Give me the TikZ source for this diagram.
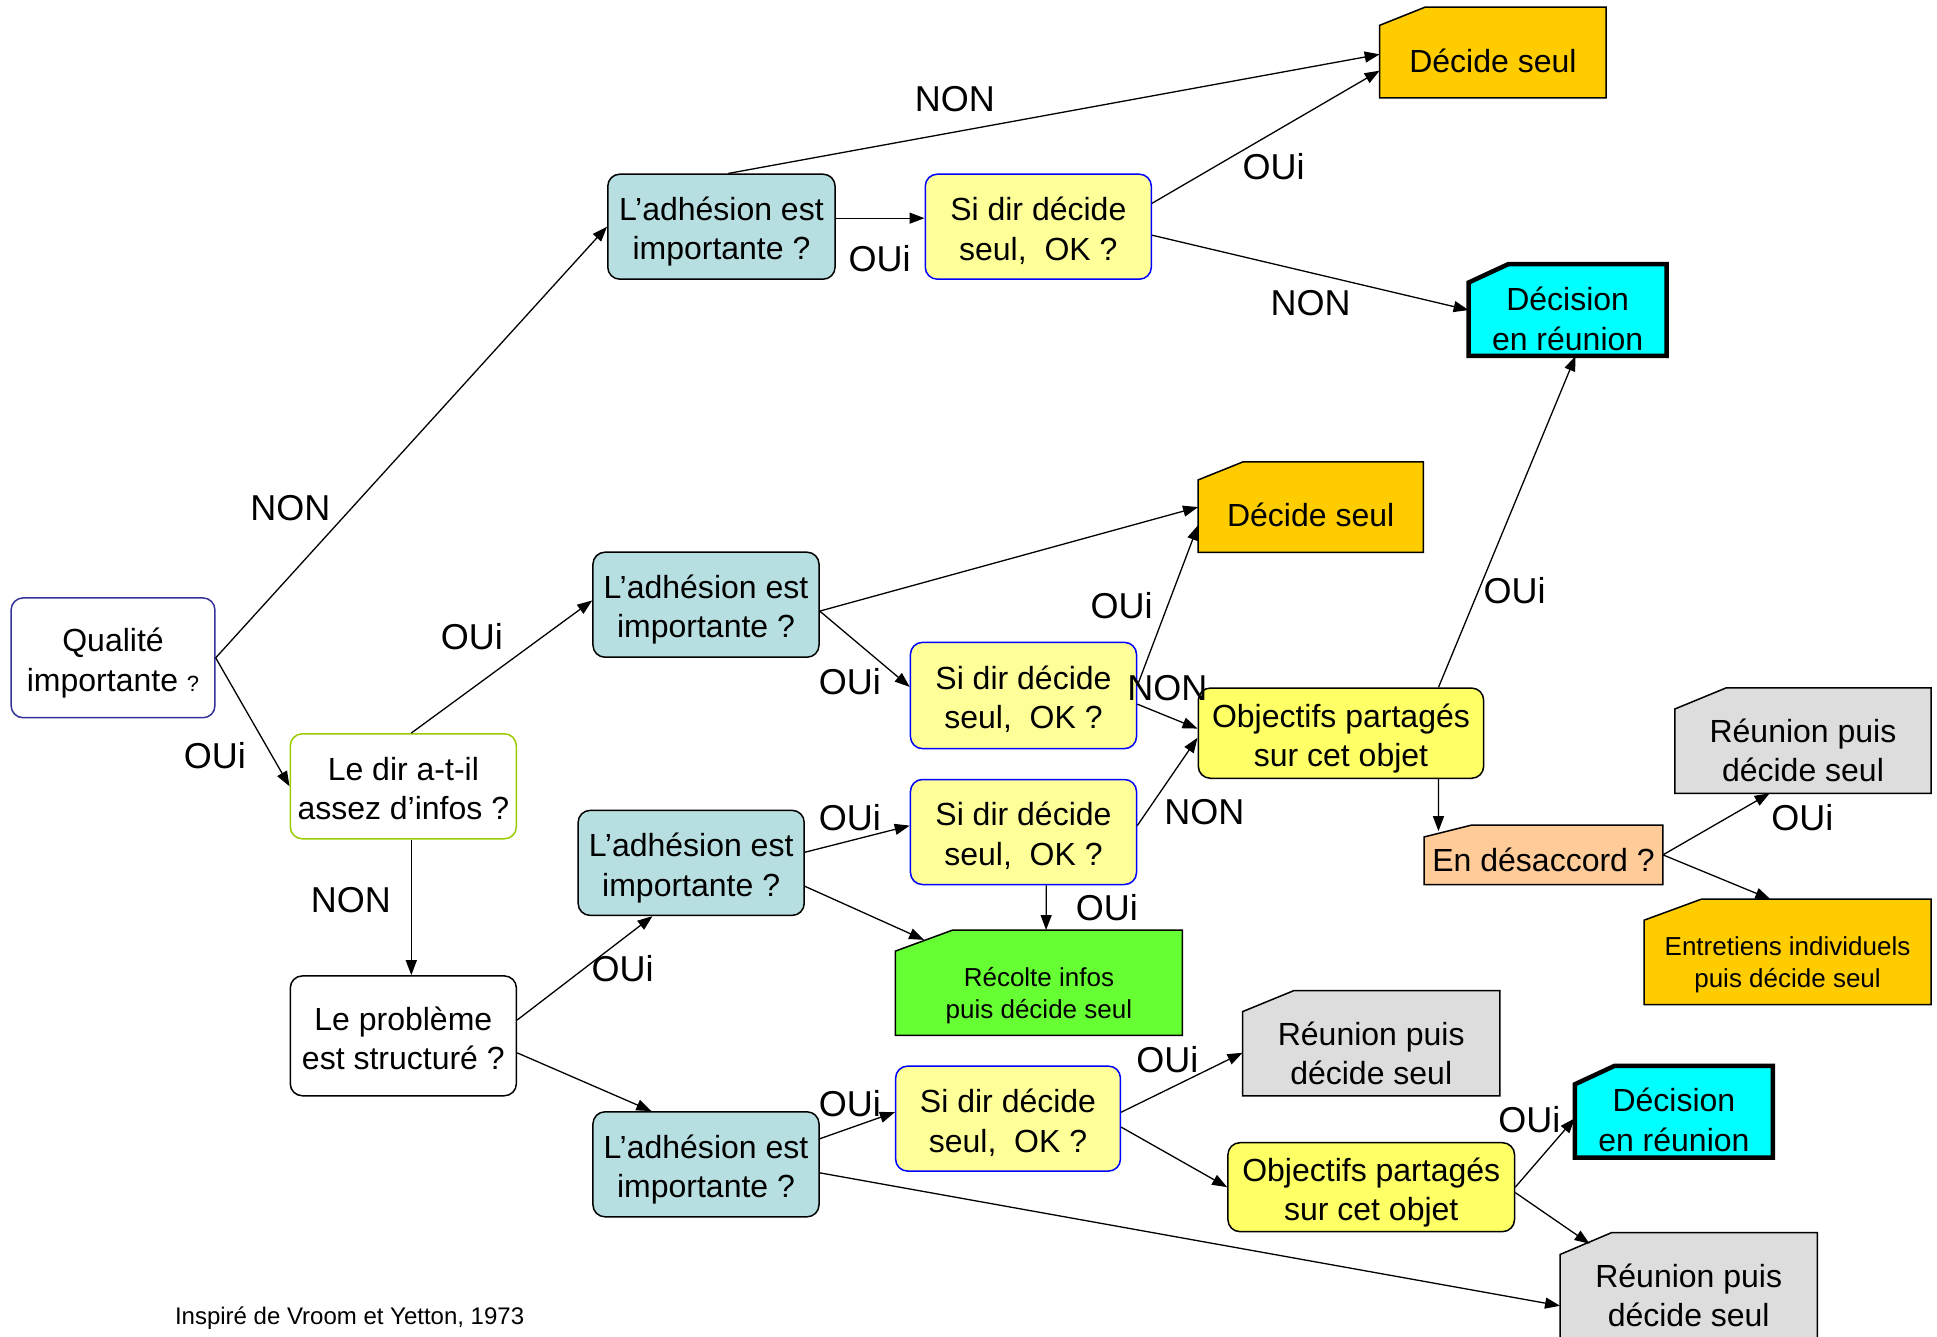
\documentclass[tikz,border=0pt]{standalone}
\usepackage{fontspec}
\setmainfont{Liberation Sans}
\usetikzlibrary{arrows.meta,calc}
\definecolor{teal1}{RGB}{183,223,225}
\definecolor{lyel}{RGB}{255,255,153}
\definecolor{yel}{RGB}{255,255,102}
\definecolor{orng}{RGB}{255,204,0}
\definecolor{cyn}{RGB}{0,255,255}
\definecolor{gry}{RGB}{221,221,221}
\definecolor{grn}{RGB}{102,255,51}
\definecolor{pch}{RGB}{255,204,153}
\definecolor{qblue}{RGB}{51,51,153}
\definecolor{lgreen}{RGB}{153,204,0}
\definecolor{sblue}{RGB}{0,0,255}
\tikzset{
 txt/.style={align=center, inner sep=0pt, font=\fontsize{32}{39.5}\selectfont},
 smalltxt/.style={font=\fontsize{26}{32}\selectfont},
 rbox/.style={draw, rounded corners=12pt, line width=1.5pt, inner sep=0pt},
 tealbox/.style={rbox, fill=teal1, draw=black},
 sibox/.style={rbox, fill=lyel, draw=sblue},
 objbox/.style={rbox, fill=yel, draw=black},
 lbl/.style={inner sep=0pt, font=\fontsize{36}{40}\selectfont},
 arr/.style={-{Triangle[length=15pt,width=11pt]}, line width=1.3pt},
 snipthin/.style={line width=1.5pt, draw=black, line join=miter},
 snipthick/.style={line width=4.5pt, draw=black, line join=miter},
}
% rounded box: name, center, w, h, box style, text options, text
\newcommand\tbox[7]{%
  \node[#5, minimum width=#3*1.2353pt, minimum height=#4*1.2353pt] (#1) at (#2) {};
  \node[txt, #6] (#1-t) at (#1.center) {#7};
}
% snipped box: name, center, w, h, shape style, text options, text
\newcommand\snipbox[7]{%
  \node[inner sep=0pt, minimum width=#3*1.2353pt, minimum height=#4*1.2353pt] (#1) at (#2) {};
  \draw[#5] ($(#1.north west)!0.2!(#1.south west)$) -- ($(#1.north west)!0.2!(#1.north east)$)
     -- (#1.north east) -- (#1.south east) -- (#1.south west) -- cycle;
  \node[txt, #6] (#1-t) at (#1.center) {#7};
}
\begin{document}
\begin{tikzpicture}[x=1.2353pt,y=-1.2353pt]
\useasboundingbox (0,0) rectangle (1568,1082);

% rounded boxes
\tbox{q}{91.5,532.5}{165}{97}{rbox, draw=qblue, fill=white}{yshift=-5pt}{Qualité\\importante {\fontsize{22}{26}\selectfont ?}}
\tbox{ld}{326.5,636.5}{183}{85}{rbox, draw=lgreen, fill=white}{yshift=-2.5pt}{Le dir a-t-il\\assez d’infos ?}
\tbox{lp}{326.5,838.5}{183}{97}{rbox, draw=black, fill=white}{yshift=-2.5pt}{Le problème\\est structuré ?}

\tbox{a1}{584,183.5}{184}{85}{tealbox}{yshift=-5pt}{L’adhésion est\\importante ?}
\tbox{a2}{571.5,489.5}{183}{85}{tealbox}{yshift=-5pt}{L’adhésion est\\importante ?}
\tbox{a3}{559.5,698.5}{183}{85}{tealbox}{yshift=-5pt}{L’adhésion est\\importante ?}
\tbox{a4}{571.5,942.5}{183}{85}{tealbox}{yshift=-5pt}{L’adhésion est\\importante ?}

\tbox{s1}{840.5,183.5}{183}{85}{sibox}{yshift=-4pt}{Si dir décide\\seul,~ OK ?}
\tbox{s2}{828.5,563}{183}{86}{sibox}{yshift=-4pt}{Si dir décide\\seul,~ OK ?}
\tbox{s3}{828.5,673.5}{183}{85}{sibox}{yshift=-4pt}{Si dir décide\\seul,~ OK ?}
\tbox{s4}{816,905.5}{182}{85}{sibox}{yshift=-4pt}{Si dir décide\\seul,~ OK ?}

\tbox{o1}{1085.5,593.5}{231}{73}{objbox}{yshift=-5.5pt}{Objectifs partagés\\sur cet objet}
\tbox{o2}{1110,961}{232}{72}{objbox}{yshift=-5.5pt}{Objectifs partagés\\sur cet objet}

% snipped boxes
\snipbox{d1}{1208.5,42.5}{183}{73}{snipthin, fill=orng}{yshift=-8pt}{Décide seul}
\snipbox{d2}{1061,410.5}{182}{73}{snipthin, fill=orng}{yshift=-8pt}{Décide seul}
\snipbox{r1}{1269,251}{160}{74}{snipthick, fill=cyn}{yshift=-9pt}{Décision\\en réunion}
\snipbox{r2}{1355,900}{160}{74}{snipthick, fill=cyn}{yshift=-8pt}{Décision\\en réunion}
\snipbox{g1}{1459.5,599.5}{207}{85}{snipthin, fill=gry}{yshift=-10pt}{Réunion puis\\décide seul}
\snipbox{g2}{1110,844.5}{208}{85}{snipthin, fill=gry}{yshift=-10pt}{Réunion puis\\décide seul}
\snipbox{g3}{1367,1042}{208}{88}{snipthin, fill=gry}{yshift=-8pt}{Réunion puis\\décide seul}
\snipbox{ed}{1249.5,692}{193}{48}{snipthin, fill=pch}{yshift=-5pt}{En désaccord ?}
\snipbox{en}{1447,770.5}{232}{85}{snipthin, fill=orng}{smalltxt, yshift=-13pt}{Entretiens individuels\\puis décide seul}
\snipbox{rc}{841,795.5}{232}{85}{snipthin, fill=grn}{smalltxt, yshift=-13pt}{Récolte infos\\puis décide seul}

% connectors
\draw[arr] (q.east) -- (a1.west);
\draw[arr] (q.east) -- (ld.west);
\draw[arr] ($(a1.north east)!0.42!(a1.south east)$) -- ($(s1.north west)!0.42!(s1.south west)$);
\draw[arr] ($(a1.north west)!0.53!(a1.north east)$) -- ($(d1.north west)!0.52!(d1.south west)$);
\draw[arr] ($(s1.north east)!0.28!(s1.south east)$) -- ($(d1.north west)!0.70!(d1.south west)$);
\draw[arr] ($(s1.north east)!0.58!(s1.south east)$) -- (r1.west);
\draw[arr] ($(ld.north west)!0.535!(ld.north east)$) -- ($(a2.north west)!0.46!(a2.south west)$);
\draw[arr] ($(ld.south west)!0.535!(ld.south east)$) -- ($(lp.north west)!0.535!(lp.north east)$);
\draw[arr] ($(a2.north east)!0.56!(a2.south east)$) -- (d2.west);
\draw[arr] ($(a2.north east)!0.56!(a2.south east)$) -- ($(s2.north west)!0.42!(s2.south west)$);
\draw[arr] ($(s2.north east)!0.41!(s2.south east)$) -- ($(d2.north west)!0.70!(d2.south west)$);
\draw[arr] ($(s2.north east)!0.58!(s2.south east)$) -- ($(o1.north west)!0.45!(o1.south west)$);
\draw[arr] ($(s3.north east)!0.44!(s3.south east)$) -- ($(o1.north west)!0.55!(o1.south west)$);
\draw[arr] ($(o1.north west)!0.84!(o1.north east)$) -- ($(r1.south west)!0.54!(r1.south east)$);
\draw[arr] ($(o1.south west)!0.84!(o1.south east)$) -- ($(ed.north west)!0.06!(ed.north east)+(0,5)$);
\draw[arr] (ed.east) -- ($(g1.south west)!0.37!(g1.south east)$);
\draw[arr] (ed.east) -- ($(en.north west)!0.44!(en.north east)$);
\draw[arr] ($(lp.north east)!0.37!(lp.south east)$) -- ($(a3.south west)!0.33!(a3.south east)$);
\draw[arr] ($(lp.north east)!0.64!(lp.south east)$) -- ($(a4.north west)!0.26!(a4.north east)$);
\draw[arr] ($(a3.north east)!0.4!(a3.south east)$) -- ($(s3.north west)!0.44!(s3.south west)$);
\draw[arr] ($(a3.north east)!0.72!(a3.south east)$) -- ($(rc.north west)!0.1!(rc.north east)+(0,8)$);
\draw[arr] ($(s3.south west)!0.6!(s3.south east)$) -- ($(rc.north west)!0.525!(rc.north east)$);
\draw[arr] ($(a4.north east)!0.26!(a4.south east)$) -- ($(s4.north west)!0.44!(s4.south west)$);
\draw[arr] ($(a4.north east)!0.58!(a4.south east)$) -- ($(g3.north west)!0.67!(g3.south west)$);
\draw[arr] ($(s4.north east)!0.44!(s4.south east)$) -- ($(g2.north west)!0.59!(g2.south west)$);
\draw[arr] ($(s4.north east)!0.58!(s4.south east)$) -- (o2.west);
\draw[arr] (o2.east) -- ($(r2.north west)!0.57!(r2.south west)$);
\draw[arr] ($(o2.north east)!0.56!(o2.south east)$) -- ($(g3.north west)!0.115!(g3.north east)+(0,9)$);

% labels
\node[lbl] (l1) at (773,80) {NON};
\node[lbl] (l2) at (1031,135) {OUi};
\node[lbl] (l3) at (712,209) {OUi};
\node[lbl] (l4) at (1061,245) {NON};
\node[lbl] (l5) at (235,411) {NON};
\node[lbl] (l6) at (382,515) {OUi};
\node[lbl] (l7) at (174,612) {OUi};
\node[lbl] (l8) at (284,729) {NON};
\node[lbl] (l9) at (908,490) {OUi};
\node[lbl] (l10) at (688,552) {OUi};
\node[lbl] (l11) at (945,557) {NON};
\node[lbl] (l12) at (1226,478) {OUi};
\node[lbl] (l13) at (688,662) {OUi};
\node[lbl] (l14) at (975,657) {NON};
\node[lbl] (l15) at (1459,662) {OUi};
\node[lbl] (l16) at (896,735) {OUi};
\node[lbl] (l17) at (504,784) {OUi};
\node[lbl] (l18) at (945,858) {OUi};
\node[lbl] (l19) at (688,893) {OUi};
\node[lbl] (l20) at (1238,906) {OUi};

\node[inner sep=0pt, font=\fontsize{24}{28}\selectfont] (src) at (283,1067) {Inspiré de Vroom et Yetton, 1973};
\end{tikzpicture}
\end{document}
